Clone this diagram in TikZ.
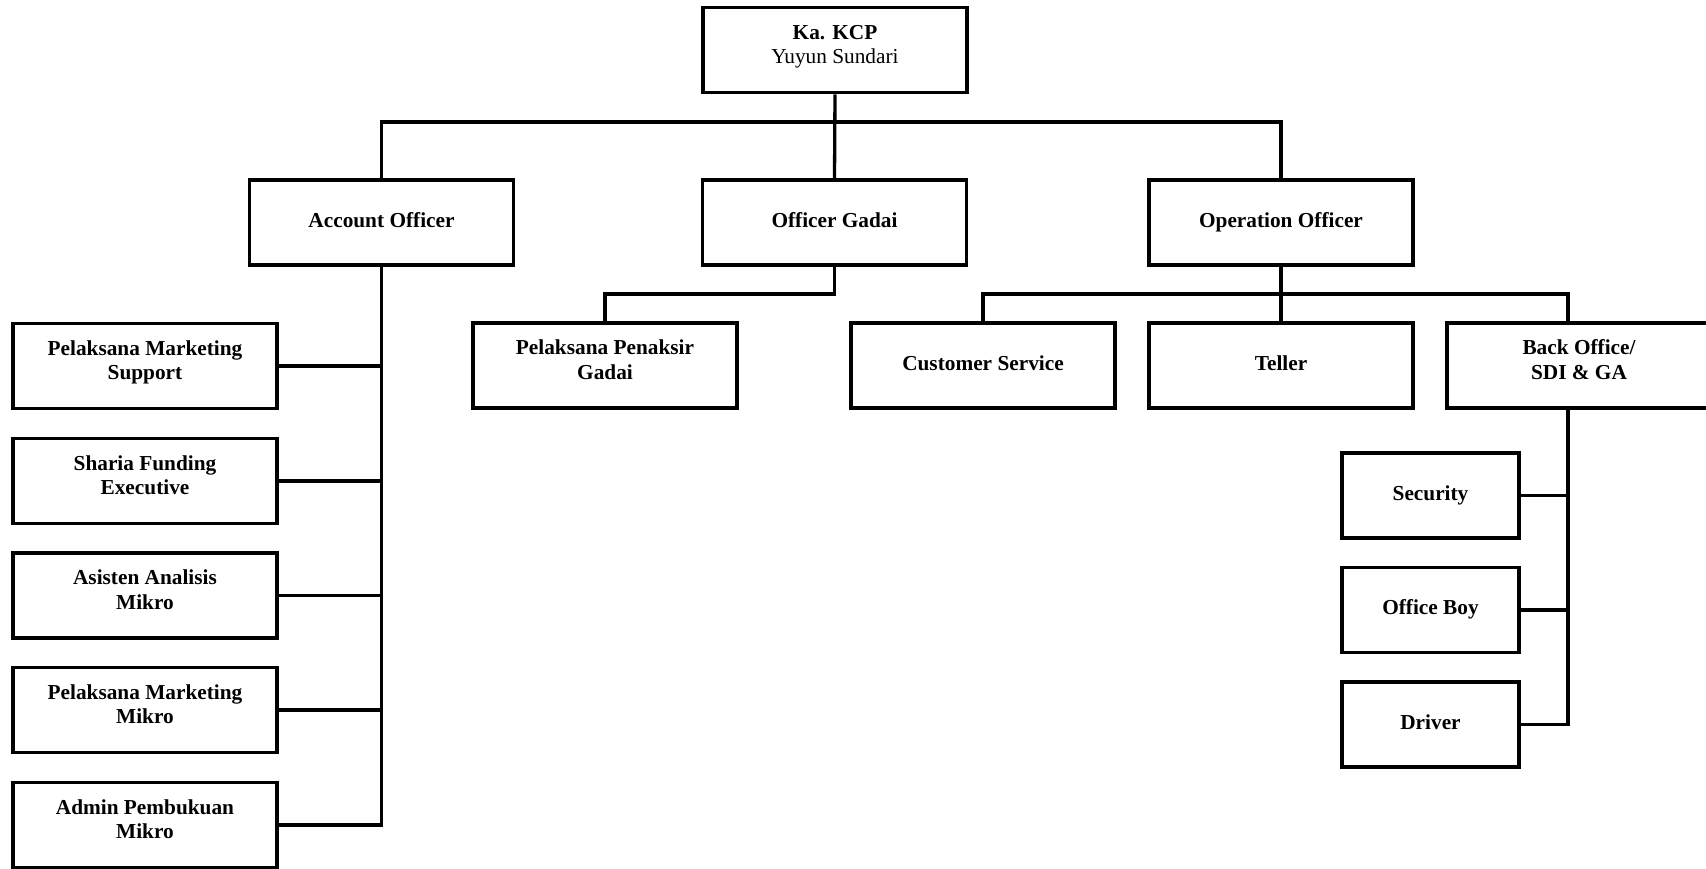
\documentclass[tikz,border=0pt]{standalone}
\usepackage{fontspec}
\setmainfont{Liberation Serif}
\begin{document}
\begin{tikzpicture}[x=1pt,y=-1pt,
  box/.style={draw, line width=3.6pt, minimum width=264pt, minimum height=85pt, inner sep=0pt, align=center, font=\fontsize{21.3}{24.5}\selectfont\bfseries, text height=14pt, text depth=4.4pt},
  two/.style={text height=38.5pt, text depth=11.5pt},
  sbox/.style={box, minimum width=177pt},
  conn/.style={line width=3.3pt}]
\useasboundingbox (0,0) rectangle (1706,868);
% nodes
\node[box, text height=38.5pt, text depth=11pt] (top) at (835,50) {Ka. KCP\\\mdseries Yuyun Sundari};
\node[box] (ao) at (381.5,222.5) {Account Officer};
\node[box] (og) at (834.5,222.5) {Officer Gadai};
\node[box] (oo) at (1281,222.5) {Operation Officer};
\node[box, two] (l1) at (145,366) {Pelaksana Marketing\\Support};
\node[box, two] (l2) at (145,481) {Sharia Funding\\Executive};
\node[box, two] (l3) at (145,595.5) {Asisten Analisis\\Mikro};
\node[box, two] (l4) at (145,710) {Pelaksana Marketing\\Mikro};
\node[box, two] (l5) at (145,825) {Admin Pembukuan\\Mikro};
\node[box, two] (ppg) at (605,365.5) {Pelaksana Penaksir\\Gadai};
\node[box] (cs) at (983,365.5) {Customer Service};
\node[box] (tel) at (1281,365.5) {Teller};
\node[box, two] (bo) at (1579,365.5) {Back Office/\\SDI \& GA};
\node[sbox] (sec) at (1430.5,495.5) {Security};
\node[sbox] (ob) at (1430.5,610) {Office Boy};
\node[sbox] (drv) at (1430.5,724.5) {Driver};
% helper coordinates
\coordinate (b1) at (0,122);
\coordinate (b2) at (0,294);
\coordinate (rsp) at (1568,0);
% connectors
\draw[conn] (top.south) -- (og.north);
\draw[conn] (ao.north) |- (b1 -| oo.north) -- (oo.north);
\draw[conn] (og.south) -- (og.south |- b2) -| (ppg.north);
\draw[conn] (oo.south) -- (tel.north);
\draw[conn] (cs.north) |- (b2 -| rsp) -- (bo.north -| rsp);
\draw[conn] (ao.south) |- (l5.east);
\draw[conn] (l1.east) -- (l1.east -| ao.south);
\draw[conn] (l2.east) -- (l2.east -| ao.south);
\draw[conn] (l3.east) -- (l3.east -| ao.south);
\draw[conn] (l4.east) -- (l4.east -| ao.south);
\draw[conn] (bo.south -| rsp) |- (drv.east);
\draw[conn] (sec.east) -- (sec.east -| rsp);
\draw[conn] (ob.east) -- (ob.east -| rsp);
\end{tikzpicture}
\end{document}
